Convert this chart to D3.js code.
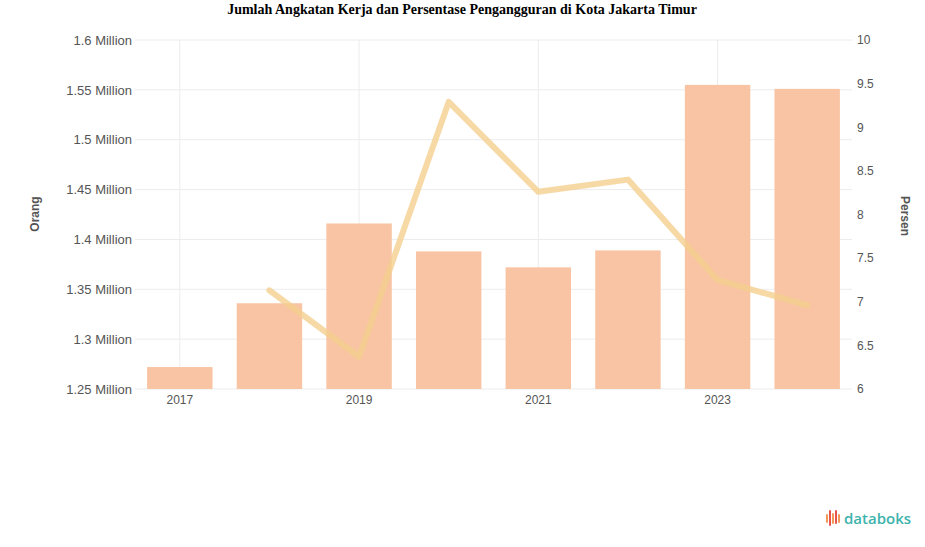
<!DOCTYPE html>
<html><head><meta charset="utf-8">
<script src="https://cdn.jsdelivr.net/npm/d3@7"></script>
<style>body{margin:0;background:#fff;}svg{display:block;}</style>
</head><body>
<svg id="c" width="925" height="547"></svg>
<script>
const years = ["2017","2018","2019","2020","2021","2022","2023","2024"];
const angkatanKerja = [1272000, 1336000, 1416000, 1388000, 1372000, 1389000, 1555000, 1551000];
const lineYears = ["2018","2019","2020","2021","2022","2023","2024"];
const pengangguran = [7.13, 6.37, 9.29, 8.26, 8.40, 7.25, 6.96];
const leftTicks = [1250000,1300000,1350000,1400000,1450000,1500000,1550000,1600000];
const rightTicks = [6,6.5,7,7.5,8,8.5,9,9.5,10];
const xTickLabels = ["2017","2019","2021","2023"];

const svg = d3.select("#c");
const m = {l:135, r:852, t:40, b:389};
const x = d3.scaleBand().domain(years).range([m.l, m.r]).paddingInner(0.27).paddingOuter(0.135);
const yL = d3.scaleLinear().domain([1250000,1600000]).range([m.b, m.t]);
const yR = d3.scaleLinear().domain([6,10]).range([m.b, m.t]);

// grid
svg.append("g").selectAll("line").data(leftTicks).join("line")
  .attr("x1", m.l).attr("x2", m.r).attr("y1", d=>yL(d)).attr("y2", d=>yL(d))
  .attr("stroke","#ececec").attr("stroke-width",1);
svg.append("g").selectAll("line").data(xTickLabels).join("line")
  .attr("x1", d=>x(d)+x.bandwidth()/2).attr("x2", d=>x(d)+x.bandwidth()/2)
  .attr("y1", m.t).attr("y2", m.b)
  .attr("stroke","#ececec").attr("stroke-width",1);

// bars
svg.append("g").selectAll("rect").data(years).join("rect")
  .attr("x", d=>x(d)).attr("width", x.bandwidth())
  .attr("y", (d,i)=>yL(angkatanKerja[i])).attr("height", (d,i)=>m.b-yL(angkatanKerja[i]))
  .attr("fill","#f9c4a3");

// line
const line = d3.line().x((d,i)=>x(lineYears[i])+x.bandwidth()/2).y(d=>yR(d));
svg.append("path").datum(pengangguran).attr("d", line)
  .attr("fill","none").attr("stroke","#f4cf8e").attr("stroke-opacity",0.8).attr("stroke-width",6)
  .attr("stroke-linecap","round").attr("stroke-linejoin","round");

// axes
const fmt = d => (d/1e6).toString() + " Million";
const gl = svg.append("g").attr("transform",`translate(${m.l-3},0)`)
  .call(d3.axisLeft(yL).tickValues(leftTicks).tickFormat(fmt).tickSize(0).tickPadding(0));
gl.select(".domain").remove();
gl.selectAll("text").attr("font-family","Liberation Sans, Arial, sans-serif").attr("font-size",13).attr("fill","#555");

const gr = svg.append("g").attr("transform",`translate(${m.r+5},0)`)
  .call(d3.axisRight(yR).tickValues(rightTicks).tickFormat(d=>String(d)).tickSize(0).tickPadding(0));
gr.select(".domain").remove();
gr.selectAll("text").attr("font-family","Liberation Sans, Arial, sans-serif").attr("font-size",12).attr("fill","#555");

const gx = svg.append("g").attr("transform",`translate(0,${m.b+3})`)
  .call(d3.axisBottom(x).tickValues(xTickLabels).tickSize(0).tickPadding(3));
gx.select(".domain").remove();
gx.selectAll("text").attr("font-family","Liberation Sans, Arial, sans-serif").attr("font-size",12).attr("fill","#555");

// axis titles
svg.append("text").attr("transform","translate(39,214) rotate(-90)").attr("text-anchor","middle")
  .attr("font-family","Liberation Sans, Arial, sans-serif").attr("font-size",12).attr("font-weight","bold").attr("fill","#555").text("Orang");
svg.append("text").attr("transform","translate(901,216) rotate(90)").attr("text-anchor","middle")
  .attr("font-family","Liberation Sans, Arial, sans-serif").attr("font-size",12).attr("font-weight","bold").attr("fill","#555").text("Persen");

// title
svg.append("text").attr("x",462).attr("y",14).attr("text-anchor","middle")
  .attr("font-family","Liberation Serif, Times New Roman, serif").attr("font-size",14).attr("font-weight","bold").attr("fill","#000")
  .text("Jumlah Angkatan Kerja dan Persentase Pengangguran di Kota Jakarta Timur");

// logo
const logo = svg.append("g").attr("transform","translate(826,510)");
const bh = [[0,4,9],[3,0,16],[6,3,11],[9,0,14],[12,4,9]];
const bc = ["#f39a5a","#e8544a","#f39a5a","#e8544a","#f39a5a"];
logo.selectAll("rect").data(bh).join("rect")
  .attr("x",d=>d[0]).attr("y",d=>d[1]).attr("width",2).attr("height",d=>d[2]).attr("rx",1)
  .attr("fill",(d,i)=>bc[i]);
svg.append("text").attr("x",844).attr("y",524).attr("font-family","Open Sans, Liberation Sans, sans-serif")
  .attr("font-size",15).attr("font-weight","600").attr("fill","#3db3ad").text("databoks");
</script>
</body></html>
